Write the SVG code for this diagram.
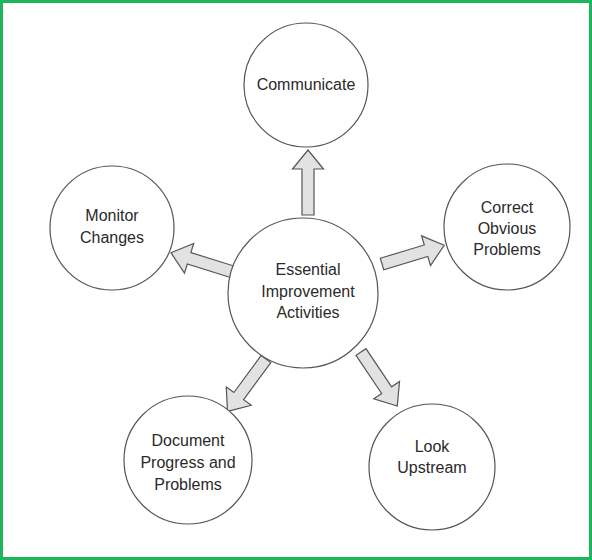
<svg xmlns="http://www.w3.org/2000/svg" width="592" height="560" viewBox="0 0 592 560">
<style>
.node circle{fill:#fff;stroke:#555;stroke-width:1.2}
.node text{font-family:"Liberation Sans",Arial,sans-serif;font-size:16px;fill:#2a2a2a;text-anchor:middle}
.arr{fill:#e2e2e2;stroke:#555;stroke-width:1.2;stroke-linejoin:miter}
</style>
<defs>
<polygon id="arrow" points="0,-6 46,-6 46,-15.5 65,0 46,15.5 46,6 0,6"/>
</defs>
<rect x="1.5" y="1.5" width="589" height="557" fill="#fff" stroke="#1fb45a" stroke-width="3"/>
<g id="connectors">
<use href="#arrow" class="arr" transform="translate(308,215) rotate(-90)"/>
<use href="#arrow" class="arr" transform="translate(382,264) rotate(-16.8)"/>
<use href="#arrow" class="arr" transform="translate(233,272) rotate(-162.7)"/>
<use href="#arrow" class="arr" transform="translate(266,359) rotate(126.3)"/>
<use href="#arrow" class="arr" transform="translate(361,352) rotate(56.1)"/>
</g>
<g id="center" class="node">
<circle cx="303" cy="293" r="75"/>
<text x="308" y="275">Essential</text>
<text x="308" y="297">Improvement</text>
<text x="308" y="318">Activities</text>
</g>
<g id="communicate" class="node">
<circle cx="306" cy="85" r="62"/>
<text x="306" y="90">Communicate</text>
</g>
<g id="monitor" class="node">
<circle cx="112" cy="228" r="62"/>
<text x="112" y="221">Monitor</text>
<text x="112" y="243">Changes</text>
</g>
<g id="correct" class="node">
<circle cx="507" cy="227" r="63"/>
<text x="507" y="213">Correct</text>
<text x="507" y="234">Obvious</text>
<text x="507" y="255">Problems</text>
</g>
<g id="document" class="node">
<circle cx="188" cy="460" r="64"/>
<text x="188" y="446">Document</text>
<text x="188" y="468">Progress and</text>
<text x="188" y="490">Problems</text>
</g>
<g id="upstream" class="node">
<circle cx="432" cy="467" r="63"/>
<text x="432" y="452">Look</text>
<text x="432" y="473">Upstream</text>
</g>
</svg>
